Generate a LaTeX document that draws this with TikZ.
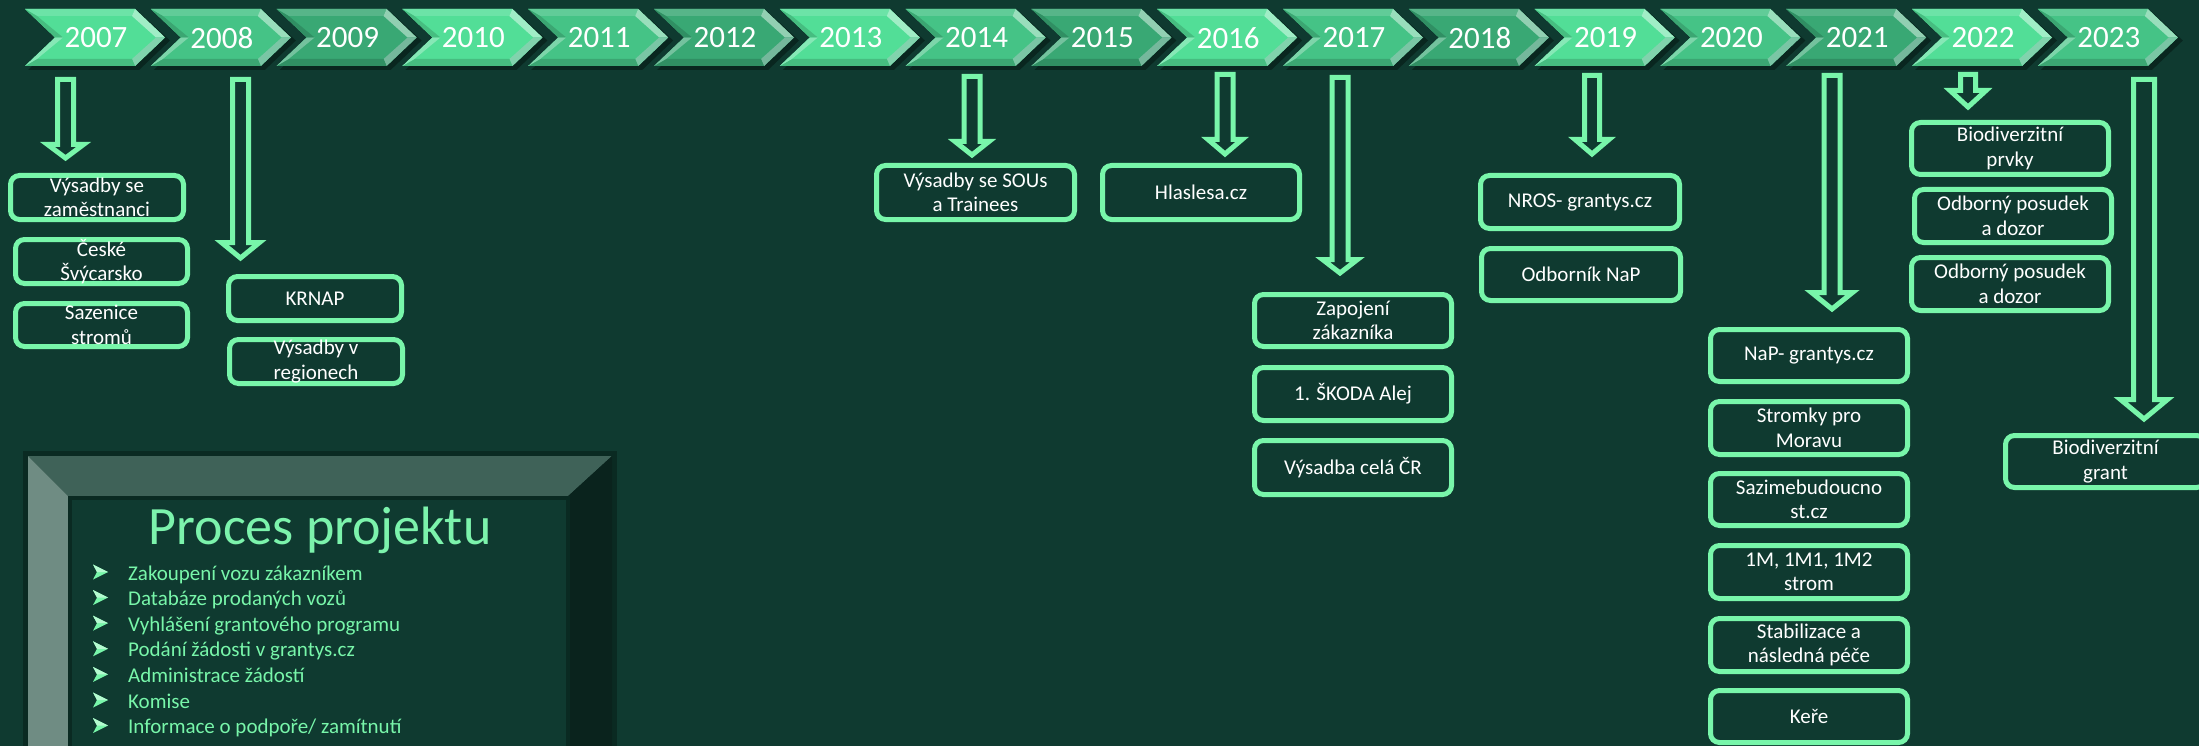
\documentclass[tikz,border=0pt]{standalone}
\usepackage{fontspec}
\setmainfont{Carlito}
\definecolor{bg}{HTML}{0F3A30}
\definecolor{mint}{HTML}{78F6AA}
\definecolor{chevA}{HTML}{52DE97}
\definecolor{chevB}{HTML}{45C386}
\definecolor{chevC}{HTML}{39A874}
\definecolor{facetgray}{HTML}{B0C8C4}
\definecolor{shadowc}{HTML}{09261F}
\definecolor{frameout}{HTML}{0A2A22}
\definecolor{bevtop}{HTML}{3F6258}
\definecolor{bevleft}{HTML}{6F8C83}
\definecolor{bevright}{HTML}{0A231D}
\definecolor{titlec}{HTML}{7CF3AC}
\tikzset{
 boxline/.style={draw=mint,line width=5pt,rounded corners=9pt,fill=bg},
 boxtext/.style={text=white,font=\fontsize{21}{24.5}\selectfont,align=center,inner sep=0pt},
 yeartext/.style={text=white,font=\fontsize{31}{31}\selectfont,inner sep=0pt},
 arrowline/.style={draw=mint,line width=5pt,fill=bg,line join=miter},
 itemtext/.style={text=mint,font=\fontsize{21}{21}\selectfont,inner sep=0pt,anchor=base west},
 titletext/.style={text=titlec,font=\fontsize{54}{54}\selectfont,inner sep=0pt,anchor=base},
}
\newcommand\tlbox[6]{%
 \draw[boxline] (#2+2.5,#4+2.5) rectangle (#3-2.5,#5-2.5);
 \node[boxtext] (#1) at ({(#2+#3)/2},{(#4+#5)/2}) {#6};}
% cx, top, headtop, tip, shaft half width, head half width (outer)
\newcommand\barrow[6]{%
 \draw[arrowline] (#1-#5+2.5,#2+2.5) -- (#1+#5-2.5,#2+2.5) -- (#1+#5-2.5,#3+2.5)
   -- (#1+#6-3.5,#3+2.5) -- (#1,#4-4) -- (#1-#6+3.5,#3+2.5) -- (#1-#5+2.5,#3+2.5) -- cycle;}
\begin{document}
\begin{tikzpicture}[x=1pt,y=-1pt]
\useasboundingbox (0,0) rectangle (2199,746);
\clip (0,0) rectangle (2199,746);
\fill[bg] (0,0) rectangle (2199,746);

% timeline chevrons
\foreach \yr [count=\i from 0] in {2007,2008,...,2023}{
  \pgfmathsetmacro\xa{25+125.8*\i}
  \pgfmathtruncatemacro\m{mod(\i,3)}
  \ifcase\m \colorlet{cc}{chevA}\or \colorlet{cc}{chevB}\or \colorlet{cc}{chevC}\fi
  \fill[shadowc] (\xa+3,12) -- (\xa+114,12) -- (\xa+145,40.5) -- (\xa+114,70) -- (\xa+3,70) -- (\xa+33,40.5) -- cycle;
  \fill[cc] (\xa,9) -- (\xa+110,9) -- (\xa+140,37.5) -- (\xa+110,66) -- (\xa,66) -- (\xa+30,37.5) -- cycle;
  \fill[cc!85!white] (\xa,9) -- (\xa+110,9) -- (\xa+107,16) -- (\xa+12,16) -- cycle;
  \fill[cc!55!white] (\xa+110,9) -- (\xa+140,37.5) -- (\xa+131,37.5) -- (\xa+107,16) -- cycle;
  \fill[cc!50!facetgray] (\xa+140,37.5) -- (\xa+110,66) -- (\xa+107,59) -- (\xa+131,37.5) -- cycle;
  \fill[cc!85!black] (\xa+110,66) -- (\xa,66) -- (\xa+12,59) -- (\xa+107,59) -- cycle;
  \fill[cc!70!white] (\xa,66) -- (\xa+30,37.5) -- (\xa+38,37.5) -- (\xa+12,59) -- cycle;
  \fill[cc!85!black] (\xa+30,37.5) -- (\xa,9) -- (\xa+12,16) -- (\xa+38,37.5) -- cycle;
  \node[yeartext] (y\yr) at (\xa+71,38) {\yr};
}

% block arrows
\barrow{65.5}{77}{142}{162}{10.5}{21.5}
\barrow{240.5}{77}{240}{262}{10.5}{22.5}
\barrow{972}{74}{139}{159}{10.5}{20.5}
\barrow{1225}{72}{137}{158}{10.5}{20.5}
\barrow{1340}{75}{257}{277}{10.5}{21}
\barrow{1592}{73}{137}{158}{10}{20.5}
\barrow{1832}{73}{290}{313}{10.5}{24}
\barrow{1968}{72}{88}{111}{10}{21.5}
\barrow{2144}{77}{397}{423}{13}{27}

% boxes
\tlbox{a1}{8}{186}{173}{222}{Výsadby se\\zaměstnanci}
\tlbox{a2}{13}{190}{237}{286}{České\\Švýcarsko}
\tlbox{a3}{13}{190}{301}{349}{Sazenice\\stromů}
\tlbox{b1}{226}{404}{274}{323}{KRNAP}
\tlbox{b2}{227}{405}{337}{386}{Výsadby v\\regionech}
\tlbox{c1}{874}{1077}{163}{222}{Výsadby se SOUs\\a Trainees}
\tlbox{d1}{1100}{1302}{163}{222}{Hlaslesa.cz}
\tlbox{e1}{1252}{1454}{292}{349}{Zapojení\\zákazníka}
\tlbox{e2}{1252}{1454}{365}{423}{1. ŠKODA Alej}
\tlbox{e3}{1252}{1454}{438}{497}{Výsadba celá ČR}
\tlbox{f1}{1478}{1682}{173}{231}{NROS- grantys.cz}
\tlbox{f2}{1479}{1683}{246}{303}{Odborník NaP}
\tlbox{g1}{1708}{1910}{327}{384}{NaP- grantys.cz}
\tlbox{g2}{1708}{1910}{399}{457}{Stromky pro\\Moravu}
\tlbox{g3}{1708}{1910}{471}{528}{Sazimebudoucno\\st.cz}
\tlbox{g4}{1708}{1910}{543}{601}{1M, 1M1, 1M2\\strom}
\tlbox{g5}{1708}{1910}{616}{674}{Stabilizace a\\následná péče}
\tlbox{g6}{1708}{1910}{688}{745}{Keře}
\tlbox{h1}{1909}{2111}{120}{177}{Biodiverzitní\\prvky}
\tlbox{h2}{1912}{2114}{187}{245}{Odborný posudek\\a dozor}
\tlbox{h3}{1909}{2111}{255}{313}{Odborný posudek\\a dozor}
\tlbox{i1}{2003}{2208}{433}{490}{Biodiverzitní\\grant}

% process frame
\fill[frameout] (23,451) rectangle (617,760);
\fill[bevtop] (28,456) -- (612,456) -- (566,498) -- (70,498) -- cycle;
\fill[bevleft] (28,456) -- (70,498) -- (70,760) -- (28,760) -- cycle;
\fill[bevright] (612,456) -- (612,760) -- (566,760) -- (566,498) -- cycle;
\fill[frameout] (68,496) rectangle (570,760);
\fill[bg] (72,500) rectangle (566,760);
\node[titletext] (title) at (320,544) {Proces projektu};
\foreach \t [count=\k from 0] in {Zakoupení vozu zákazníkem,Databáze prodaných vozů,Vyhlášení grantového programu,Podání žádosti v grantys.cz,Administrace žádostí,Komise,Informace o podpoře/ zamítnutí}{
  \pgfmathsetmacro\yb{580+25.6*\k}
  \fill[mint] (93,\yb-15.5) -- (108,\yb-8) -- (93,\yb-0.5) -- (97,\yb-8) -- cycle;
  \fill[mint!55!white] (93,\yb-15.5) -- (108,\yb-8) -- (97,\yb-8) -- cycle;
  \node[itemtext] (item\k) at (128,\yb) {\t};
}
\end{tikzpicture}
\end{document}
